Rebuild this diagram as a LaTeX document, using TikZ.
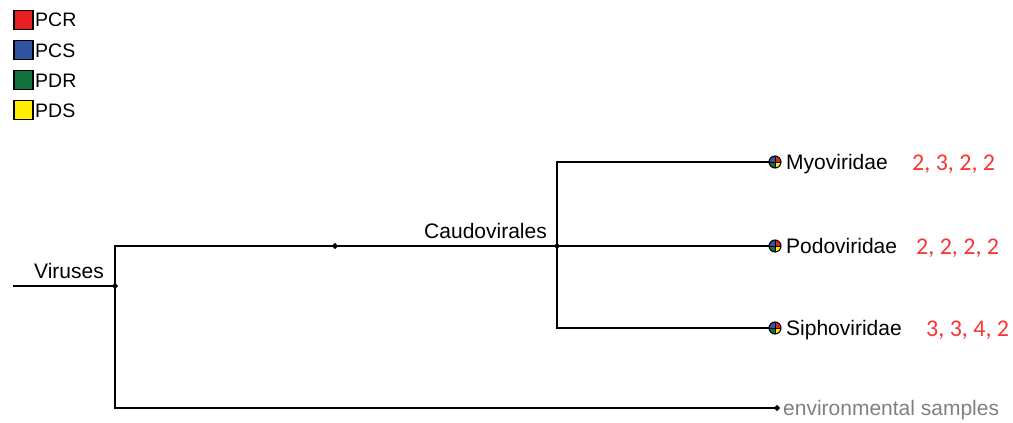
\documentclass[tikz,border=0pt]{standalone}
\usepackage{fontspec}
\setmainfont{Liberation Sans}
\newfontfamily\numfont{Carlito}
\usetikzlibrary{calc}
\definecolor{pcr}{RGB}{232,32,36}
\definecolor{pcs}{RGB}{52,82,162}
\definecolor{pdr}{RGB}{20,112,60}
\definecolor{pds}{RGB}{255,238,0}
\definecolor{numred}{RGB}{250,52,52}
\definecolor{envgray}{RGB}{128,128,128}
\tikzset{
  legbox/.style={draw=black, line width=1.8pt, minimum width=19pt, minimum height=19pt, inner sep=0pt},
  legtext/.style={font=\fontsize{19.5}{22}\selectfont, inner sep=0pt, anchor=base west},
  lab/.style={font=\fontsize{21}{24}\selectfont, inner sep=0pt},
  nums/.style={font=\numfont\fontsize{24}{28}\selectfont, text=numred, inner sep=0pt, anchor=base west},
  edge/.style={draw=black, line width=1.5pt},
  junc/.style={diamond, fill=black, inner sep=0pt, minimum size=6.5pt},
}
\usetikzlibrary{shapes.geometric}
\newcommand{\piemark}[1]{%
  \begin{scope}[shift={(#1)}, yscale=-1]
  \fill[pcs] (0,0) -- (180:6) arc[start angle=180,end angle=90,radius=6] -- cycle;
  \fill[pcr] (0,0) -- (90:6) arc[start angle=90,end angle=0,radius=6] -- cycle;
  \fill[pdr] (0,0) -- (180:6) arc[start angle=180,end angle=270,radius=6] -- cycle;
  \fill[pds] (0,0) -- (0:6) arc[start angle=0,end angle=-90,radius=6] -- cycle;
  \draw[line width=0.7pt] (-6,0) -- (6,0) (0,-6) -- (0,6);
  \draw[line width=1.1pt] (0,0) circle[radius=6];
  \end{scope}
}
\begin{document}
\begin{tikzpicture}[x=1pt,y=-1pt]
\useasboundingbox (0,0) rectangle (1013,423);
% legend
\node[legbox, fill=pcr] (lg1) at (23.5,20) {};
\node[legbox, fill=pcs] (lg2) at (23.5,50) {};
\node[legbox, fill=pdr] (lg3) at (23.5,80) {};
\node[legbox, fill=pds] (lg4) at (23.5,110) {};
\node[legtext] (lt1) at (35,27) {PCR};
\node[legtext] (lt2) at (35,57) {PCS};
\node[legtext] (lt3) at (35,87) {PDR};
\node[legtext] (lt4) at (35,117) {PDS};
% tree coordinates
\coordinate (rootin) at (13,286);
\coordinate (root) at (115,286);
\coordinate (n1) at (335,246);
\coordinate (caud) at (557,246);
\coordinate (myo) at (775,162);
\coordinate (podo) at (775,246);
\coordinate (sipho) at (775,328);
\coordinate (env) at (777,408);
% edges
\draw[edge] (rootin) -- (root);
\draw[edge] (root) |- (n1);
\draw[edge] (n1) -- (caud);
\draw[edge] (root) |- (env);
\draw[edge] (caud) |- (myo);
\draw[edge] (caud) -- (podo);
\draw[edge] (caud) |- (sipho);
% junction dots
\node[junc] (jroot) at (root) {};
\node[junc] (jn1) at (n1) {};
\node[junc] (jcaud) at (caud) {};
\node[junc] (jenv) at (env) {};
% pies
\piemark{myo}
\piemark{podo}
\piemark{sipho}
% labels
\node[lab, anchor=base east] (tvir) at (104,278) {Viruses};
\node[lab, anchor=base east] (tcaud) at (547,238) {Caudovirales};
\node[lab, anchor=base west] (tmyo) at (786,169.5) {Myoviridae};
\node[lab, anchor=base west] (tpodo) at (786,253.5) {Podoviridae};
\node[lab, anchor=base west] (tsipho) at (786,335.5) {Siphoviridae};
\node[lab, anchor=base west, text=envgray] (tenv) at (783,415.5) {environmental samples};
\node[nums] (nmyo) at (912,170) {2, 3, 2, 2};
\node[nums] (npodo) at (916,254) {2, 2, 2, 2};
\node[nums] (nsipho) at (926,336) {3, 3, 4, 2};
\end{tikzpicture}
\end{document}
